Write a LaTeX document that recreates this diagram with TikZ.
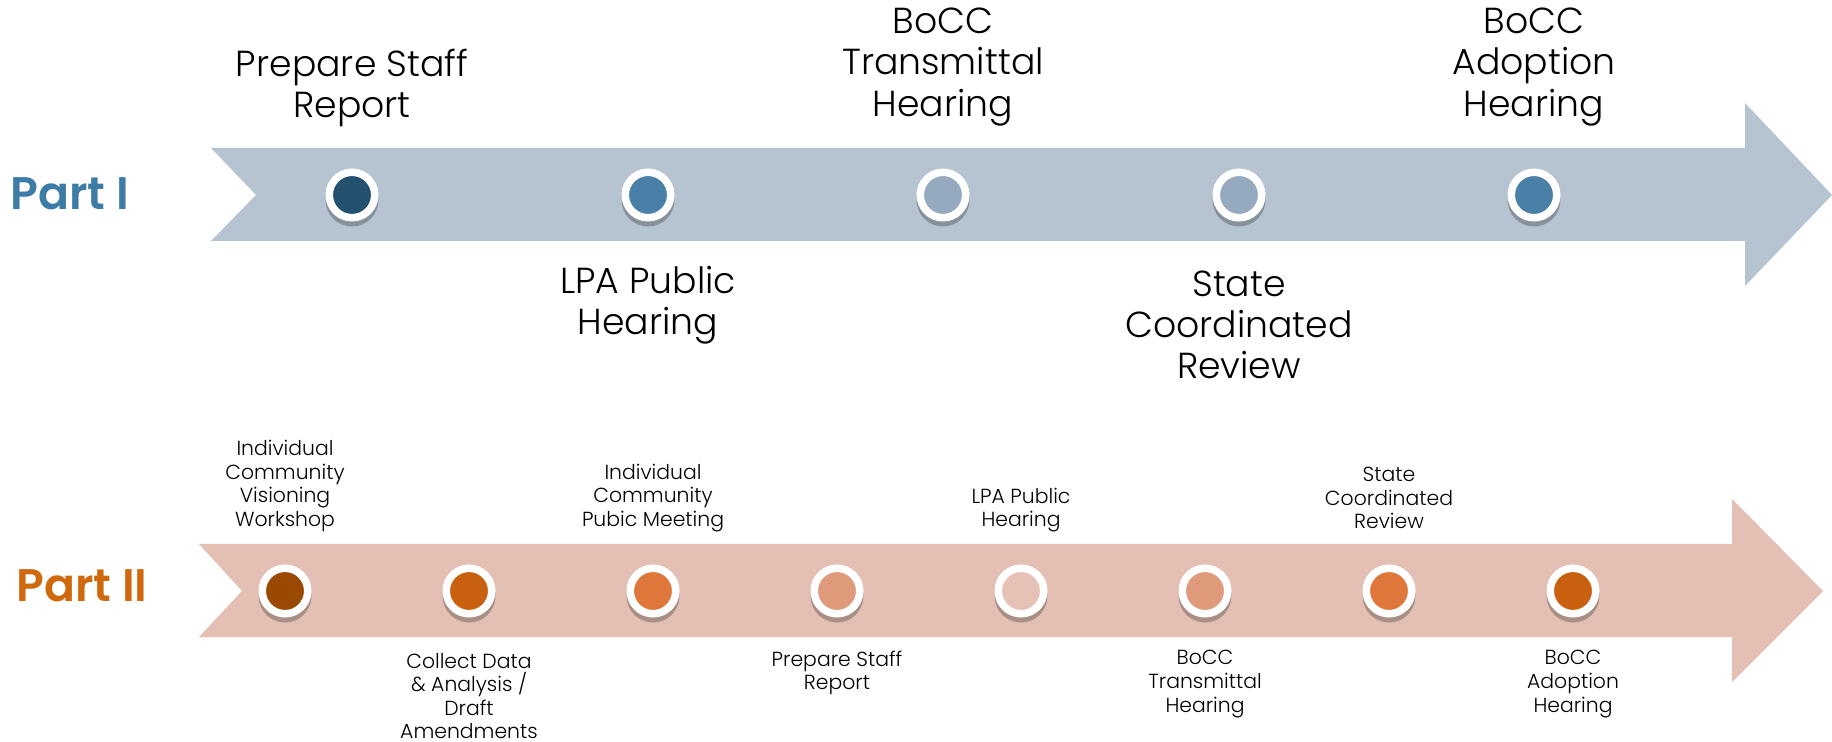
\documentclass[tikz,border=0pt]{standalone}
\usepackage{fontspec}
\setmainfont{Poppins Light}
\newfontfamily\titelfont{Poppins SemiBold}
\usepackage{tikz}
\usetikzlibrary{positioning}

\definecolor{pfeilI}{HTML}{B6C3D1}
\definecolor{pfeilII}{HTML}{E3BFB4}
\definecolor{blauA}{HTML}{24506F}
\definecolor{blauB}{HTML}{4A7FA8}
\definecolor{blauC}{HTML}{95AABF}
\definecolor{orangeA}{HTML}{994A00}
\definecolor{orangeB}{HTML}{C9600F}
\definecolor{orangeC}{HTML}{E0773A}
\definecolor{orangeD}{HTML}{DF9A7C}
\definecolor{orangeE}{HTML}{E6C2B6}
\definecolor{titelI}{HTML}{3C7CA6}
\definecolor{titelII}{HTML}{D0690E}

\tikzset{
	gross/.style={font=\fontsize{10.3}{11.7}\selectfont, align=center},
	klein/.style={font=\fontsize{5.8}{6.7}\selectfont, align=center},
	punkt/.style={circle, draw=white, line width=0.75mm, minimum size=4.55mm, inner sep=0pt, fill=#1},
	titel/.style={font=\fontsize{13}{15}\selectfont\titelfont, text=#1}
}

\begin{document}
\begin{tikzpicture}[x=0.1mm,y=-0.1mm]
	\useasboundingbox (0,0) rectangle (1832,742);
	% Pfeile
		\fill[pfeilI] (211,148) -- (1745,148) -- (1745,103) -- (1832,195) -- (1745,286) -- (1745,241) -- (211,241) -- (256,195) -- cycle;
		\fill[pfeilII] (199,544) -- (1732,544) -- (1732,499) -- (1823,591) -- (1732,682) -- (1732,637) -- (199,637) -- (242,591) -- cycle;
	% Titel
		\node (t1) at (70,194) [titel=titelI] {Part I};
		\node (t2) at (82,586) [titel=titelII] {Part II};
	% Schatten
		\foreach \x in {352,648,943,1239,1534}
			\fill[black, opacity=.25] (\x,200) circle (2.65mm);
		\foreach \x in {285,469,653,837,1021,1205,1389,1573}
			\fill[black, opacity=.25] (\x,596) circle (2.65mm);
	% Punkte Teil I
		\node (a1) at (352,195)  [punkt=blauA] {};
		\node (a2) at (648,195)  [punkt=blauB] {};
		\node (a3) at (943,195)  [punkt=blauC] {};
		\node (a4) at (1239,195) [punkt=blauC] {};
		\node (a5) at (1534,195) [punkt=blauB] {};
	% Punkte Teil II
		\node (b1) at (285,591)  [punkt=orangeA] {};
		\node (b2) at (469,591)  [punkt=orangeB] {};
		\node (b3) at (653,591)  [punkt=orangeC] {};
		\node (b4) at (837,591)  [punkt=orangeD] {};
		\node (b5) at (1021,591) [punkt=orangeE] {};
		\node (b6) at (1205,591) [punkt=orangeD] {};
		\node (b7) at (1389,591) [punkt=orangeC] {};
		\node (b8) at (1573,591) [punkt=orangeB] {};
	% Beschriftung Teil I
		\node (la1) at (352,88)   [gross] {Prepare Staff\\Report};
		\node (la2) at (648,305)  [gross] {LPA Public\\Hearing};
		\node (la3) at (943,67)   [gross] {BoCC\\Transmittal\\Hearing};
		\node (la4) at (1239,325) [gross] {State\\Coordinated\\Review};
		\node (la5) at (1534,67)  [gross] {BoCC\\Adoption\\Hearing};
	% Beschriftung Teil II
		\node (lb1) at (285,486)  [klein] {Individual\\Community\\Visioning\\Workshop};
		\node (lb2) at (469,696)  [klein] {Collect Data\\\& Analysis /\\Draft\\Amendments};
		\node (lb3) at (653,498)  [klein] {Individual\\Community\\Pubic Meeting};
		\node (lb4) at (837,673)  [klein] {Prepare Staff\\Report};
		\node (lb5) at (1021,510) [klein] {LPA Public\\Hearing};
		\node (lb6) at (1205,684) [klein] {BoCC\\Transmittal\\Hearing};
		\node (lb7) at (1389,498) [klein] {State\\Coordinated\\Review};
		\node (lb8) at (1573,684) [klein] {BoCC\\Adoption\\Hearing};
\end{tikzpicture}
\end{document}
